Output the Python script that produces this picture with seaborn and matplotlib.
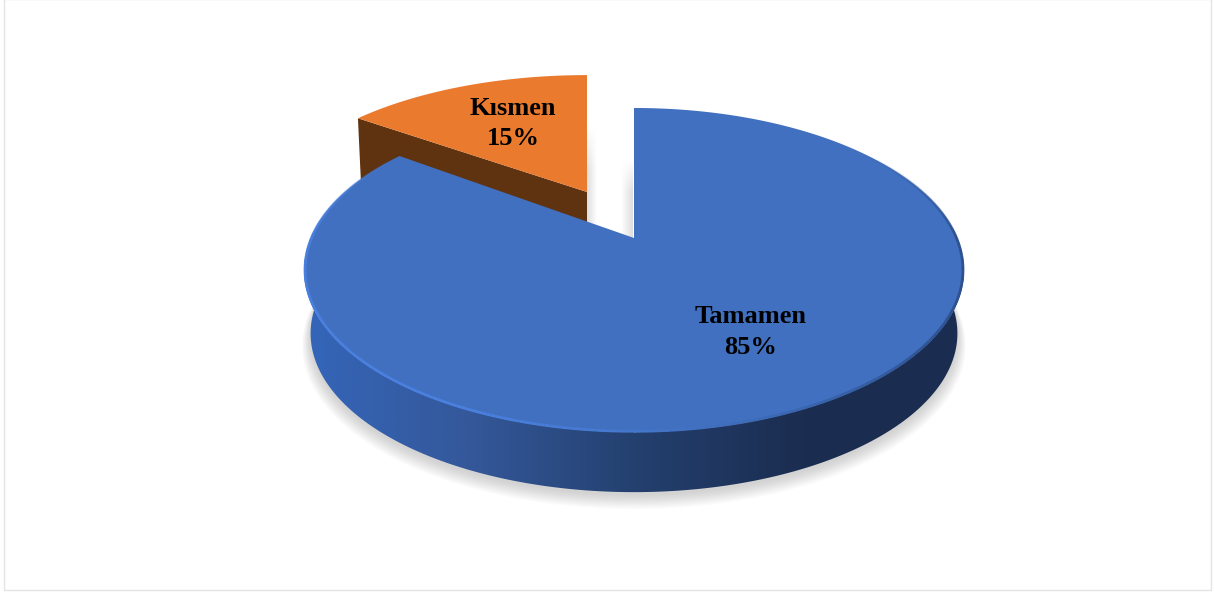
import numpy as np
import matplotlib
matplotlib.use("Agg")
import matplotlib.pyplot as plt
import seaborn as sns
from matplotlib.collections import LineCollection
from matplotlib.colors import LinearSegmentedColormap
from matplotlib.patches import Polygon, Rectangle

categories = ["Tamamen", "Kısmen"]
shares = [85, 15]
slice_colors = ["#4070BF", "#EA7B2E"]
label_positions = [(751, 332), (513, 123.5)]

# camera used to fake the 3d pie, in pixels
BLUE_VIEW = (634, 238, 323.5, 155.7)
ORANGE_VIEW = (587, 192, 316, 140)
TILT = 0.1975
DROP, SHRINK = 64, 0.98


def project(view, u, v, drop=0.0, scale=1.0):
    cx, cy, rx, ry = view
    w = 1 + TILT * v
    return cx + scale * rx * u / w, cy + drop - scale * ry * v / w


def arc(start, end, n=300):
    # angles are in fractions of the circle, clockwise from the top
    t = 2 * np.pi * np.linspace(start, end, n)
    return np.sin(t), np.cos(t)


def closed(x, y):
    return np.column_stack([x, y])


def cut_shadow(ax, x0, x1, y0, y1, flip=False):
    # fades away from the cut face and towards the top
    across = np.linspace(0, 1, 32)
    along = np.clip(np.linspace(0, 2.5, 64), 0, 1)
    dark = np.outer(along, across[::-1] if not flip else across)
    ax.imshow(dark, cmap=shade, vmin=0, vmax=1, extent=(x0, x1, y1, y0),
              aspect="auto", zorder=1)


sns.set_theme(style="white")
plt.rcParams["font.family"] = ["Liberation Serif", "DejaVu Serif"]

fig, ax = plt.subplots(figsize=(12.14, 5.93), dpi=100)
ax.set_position([0, 0, 1, 1])
ax.set_axis_off()

edges = np.cumsum([0] + shares) / sum(shares)
blue_a, blue_b = edges[0], edges[1]
orange_a, orange_b = edges[1], edges[2]

ax.add_patch(Rectangle((3.5, -1), 1207, 590.5, fc="white", ec="#E4E4E4", lw=1, zorder=0))

# soft shadow under the front of the pie
u, v = arc(0.2, 0.8)
for grow, off in zip(np.linspace(1.025, 1.0, 12), np.linspace(11, 3, 12)):
    sx, sy = project(BLUE_VIEW, u * grow, v * grow, DROP + off, SHRINK)
    ax.fill(sx, sy, color="#808080", alpha=0.03, lw=0, zorder=1)

# shadows next to the cut faces
shade = LinearSegmentedColormap.from_list("shade", ["#FFFFFF", "#DEDEDE"])
cut_shadow(ax, 587, 597, 125, 240)
cut_shadow(ax, 621, 633, 160, 240, flip=True)

# orange slice, side first and top after
u, v = arc(orange_a, orange_b)
tx, ty = project(ORANGE_VIEW, u, v)
ox, oy = project(ORANGE_VIEW, 0, 0)
bx, by = project(ORANGE_VIEW, 0, 0, DROP)
ax.add_patch(Polygon(closed([tx[0], ox, bx, tx[0] + 3], [ty[0], oy, by, ty[0] + DROP]),
                     fc="#5F3210", lw=0, zorder=2))
ax.add_patch(Polygon(closed(np.r_[ox, tx], np.r_[oy, ty]), fc=slice_colors[1], lw=0, zorder=3))

# blue slice, outer wall with a left to right gradient
u, v = arc(0.25, 0.75)
top_x, top_y = project(BLUE_VIEW, u, v)
low_x, low_y = project(BLUE_VIEW, u, v, DROP, SHRINK)
wall = Polygon(closed(np.r_[top_x, low_x[::-1]], np.r_[top_y, low_y[::-1]]), fc="none", lw=0, zorder=4)
ax.add_patch(wall)
wall_cmap = LinearSegmentedColormap.from_list(
    "wall", ["#3466BA", "#34589A", "#24406F", "#1B2D50", "#1A2C4F"]
)
grad = ax.imshow(
    np.linspace(0, 1, 256).reshape(1, -1), cmap=wall_cmap,
    extent=(300, 970, 520, 260), aspect="auto", zorder=4,
)
grad.set_clip_path(wall)

u, v = arc(blue_a, blue_b)
tx, ty = project(BLUE_VIEW, u, v)
ax.add_patch(Polygon(closed(np.r_[BLUE_VIEW[0], tx], np.r_[BLUE_VIEW[1], ty]),
                     fc=slice_colors[0], lw=0, zorder=5))

# bevel along the rim, bright on the left and dark on the right
t = np.linspace(0.15, 0.85, 400)
u, v = arc(0.15, 0.85, 400)
rx, ry = project(BLUE_VIEW, u * 0.997, v * 0.997)
points = np.column_stack([rx, ry]).reshape(-1, 1, 2)
segments = np.concatenate([points[:-1], points[1:]], axis=1)
rim_cmap = LinearSegmentedColormap.from_list(
    "rim", ["#4A80E0", "#4A80E0", "#4577CC", "#3A66B0", "#2C4F8C"]
)
rim_colors = rim_cmap((rx[:-1] - rx.min()) / (rx.max() - rx.min()))
rim_colors[:, 3] = np.clip(np.minimum((t[:-1] - 0.15) / 0.1, (0.85 - t[:-1]) / 0.1), 0, 1)
ax.add_collection(LineCollection(segments, colors=rim_colors, lw=2, zorder=6))

for name, share, (lx, ly) in zip(categories, shares, label_positions):
    ax.text(lx, ly, f"{name}\n{share}%", ha="center", va="center", fontsize=19,
            fontweight="bold", color="black", linespacing=1.42, zorder=7)

ax.set_xlim(0, 1214)
ax.set_ylim(593, 0)

fig.savefig("out.png", dpi=100)
